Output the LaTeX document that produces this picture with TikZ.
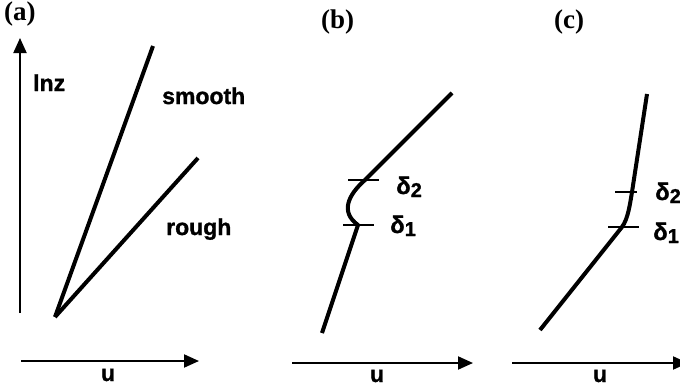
\documentclass[tikz,border=0pt]{standalone}
\usepackage{fontspec}
\setmainfont{Liberation Serif}
\setsansfont{Liberation Sans}[BoldFeatures={FakeBold=1.2}]
\usetikzlibrary{arrows.meta}

\newcommand{\dsub}[1]{δ\raisebox{-3pt}{\fontsize{20}{20}\selectfont #1}}

\begin{document}
\begin{tikzpicture}[
  x=1pt, y=-1pt,
  panel/.style={font=\bfseries\fontsize{27}{27}\selectfont, anchor=base west, inner sep=0pt},
  word/.style={font=\sffamily\bfseries\fontsize{23}{23}\selectfont, anchor=base west, inner sep=0pt},
  dlbl/.style={font=\sffamily\bfseries\fontsize{24}{24}\selectfont, anchor=base west, inner sep=0pt},
  axis/.style={line width=2pt, -{Triangle[length=15pt, width=13pt]}},
  curve/.style={line width=4pt},
  tick/.style={line width=2pt},
]
\useasboundingbox (0,0) rectangle (680,388);

% (a)
\node[panel] (pa) at (4,20) {(a)};
\coordinate (ya0) at (20,313);
\coordinate (ya1) at (20,38);
\coordinate (xa0) at (21,361);
\coordinate (xa1) at (199,361);
\draw[axis] (ya0) -- (ya1);
\draw[axis] (xa0) -- (xa1);
\node[word] (lnz) at (33,91) {lnz};
\node[word, anchor=base] (ua) at (108,381) {u};
\coordinate (o) at (55,317);
\coordinate (sm) at (153,46);
\coordinate (ro) at (198,158);
\draw[curve] (o) -- (sm);
\draw[curve] (o) -- (ro);
\node[word] (smooth) at (162,104) {smooth};
\node[word] (rough) at (166,235) {rough};

% (b)
\node[panel] (pb) at (321,28) {(b)};
\coordinate (xb0) at (292,363);
\coordinate (xb1) at (473,363);
\draw[axis] (xb0) -- (xb1);
\node[word, anchor=base] (ub) at (377,382) {u};
\coordinate (b0) at (322,333);
\coordinate (b1) at (358,225);
\coordinate (b2) at (365,180);
\coordinate (b3) at (452,93);
\draw[curve, line join=round] (b0) -- (b1) .. controls (340,212) and (348,195) .. (b2) -- (b3);
\coordinate (t1l) at (343,225);
\coordinate (t1r) at (374,225);
\coordinate (t2l) at (348,180);
\coordinate (t2r) at (379,180);
\draw[tick] (t1l) -- (t1r);
\draw[tick] (t2l) -- (t2r);
\node[dlbl] (d2b) at (396,194) {\dsub{2}};
\node[dlbl] (d1b) at (390,233) {\dsub{1}};

% (c)
\node[panel] (pc) at (554,28) {(c)};
\coordinate (xc0) at (512,363);
\coordinate (xc1) at (688,363);
\draw[axis] (xc0) -- (xc1);
\node[word, anchor=base] (uc) at (600,382) {u};
\coordinate (c0) at (540,330);
\coordinate (c1) at (622,227);
\coordinate (c2) at (632,192);
\coordinate (c3) at (647,94);
\draw[curve, line join=round] (c0) -- (c1) .. controls (628,219) and (630,204) .. (c2) -- (c3);
\coordinate (s1l) at (608,227);
\coordinate (s1r) at (639,227);
\coordinate (s2l) at (615,192);
\coordinate (s2r) at (637,192);
\draw[tick] (s1l) -- (s1r);
\draw[tick] (s2l) -- (s2r);
\node[dlbl] (d2c) at (655,200) {\dsub{2}};
\node[dlbl] (d1c) at (653,240) {\dsub{1}};
\end{tikzpicture}
\end{document}
